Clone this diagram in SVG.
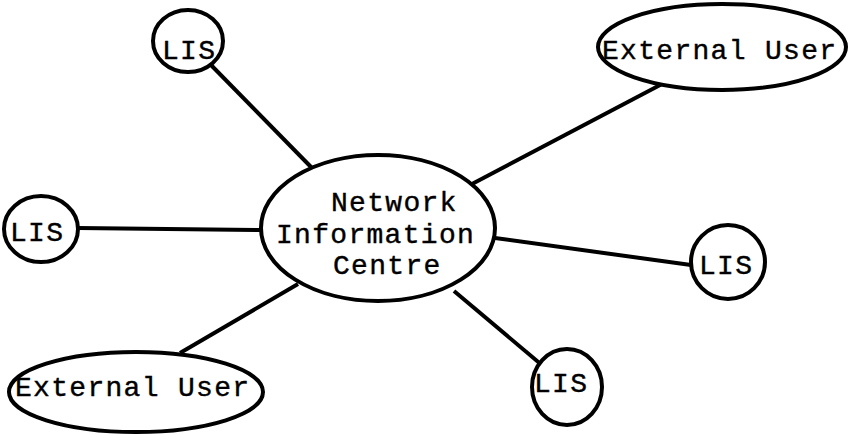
<svg xmlns="http://www.w3.org/2000/svg" width="848" height="434" viewBox="0 0 848 434">
<style>
.shape{fill:#fff;stroke:#000;stroke-width:4}
.edge{stroke:#000;stroke-width:4;fill:none}
.lbl{font-family:"Liberation Mono","DejaVu Sans Mono",monospace;font-size:28px;letter-spacing:1.3px;fill:#000;stroke:#000;stroke-width:0.4}
</style>
<rect width="848" height="434" fill="#fff"/>
<g id="connectors">
<line class="edge" x1="210" y1="64" x2="312" y2="168"/>
<line class="edge" x1="78" y1="228" x2="261" y2="230"/>
<line class="edge" x1="662" y1="84" x2="472" y2="184"/>
<line class="edge" x1="495" y1="238" x2="691" y2="265"/>
<line class="edge" x1="454" y1="291" x2="543" y2="366"/>
<line class="edge" x1="298" y1="284" x2="180" y2="353"/>
</g>
<g id="nic">
<ellipse class="shape" cx="378" cy="228" rx="117" ry="73"/>
<text class="lbl" x="331" y="211">Network</text>
<text class="lbl" x="276" y="243">Information</text>
<text class="lbl" x="333" y="274">Centre</text>
</g>
<g id="lis-top">
<ellipse class="shape" cx="188" cy="41" rx="35" ry="31"/>
<text class="lbl" x="162" y="59">LIS</text>
</g>
<g id="lis-left">
<ellipse class="shape" cx="41" cy="229" rx="37" ry="33"/>
<text class="lbl" x="10" y="241">LIS</text>
</g>
<g id="lis-right">
<ellipse class="shape" cx="728" cy="262" rx="37" ry="37"/>
<text class="lbl" x="699" y="274">LIS</text>
</g>
<g id="lis-bottom">
<ellipse class="shape" cx="567" cy="387" rx="35" ry="38"/>
<text class="lbl" x="534" y="392">LIS</text>
</g>
<g id="ext-top">
<ellipse class="shape" cx="722" cy="47" rx="124" ry="43"/>
<text class="lbl" x="602" y="59">External User</text>
</g>
<g id="ext-bottom">
<ellipse class="shape" cx="136" cy="392" rx="127" ry="40"/>
<text class="lbl" x="15" y="396">External User</text>
</g>
</svg>
